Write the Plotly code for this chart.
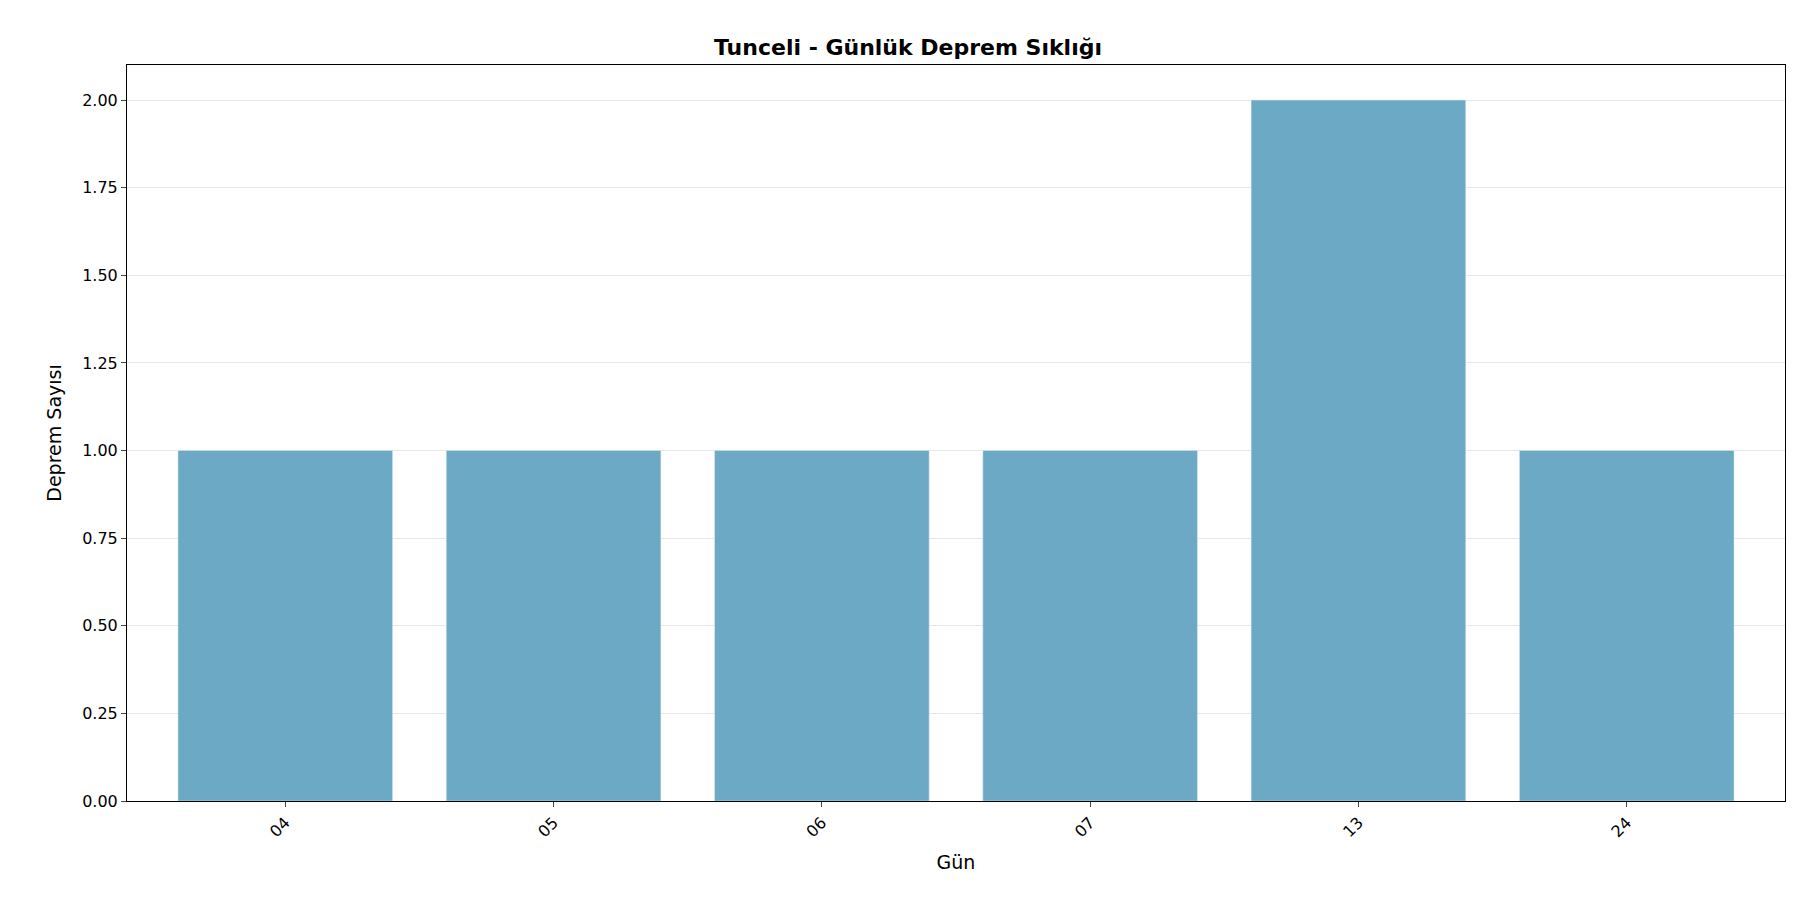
import plotly.graph_objects as go

days = ["04", "05", "06", "07", "13", "24"]
counts = [1, 1, 1, 1, 2, 1]

fig = go.Figure(go.Bar(x=days, y=counts, marker_color="#6ba9c4", width=0.8))
fig.update_layout(
    width=1800, height=900, plot_bgcolor="white", paper_bgcolor="white",
    margin=dict(l=119, r=23, t=57, b=107),
    font=dict(family="DejaVu Sans", color="black", size=16),
    title=dict(text="<b>Tunceli - Günlük Deprem Sıklığı</b>", x=0.5, xanchor="center", y=0.965, font=dict(size=22)),
    showlegend=False,
)
fig.update_xaxes(title_text="Gün", title_font=dict(size=19), tickangle=-45, showline=True, linecolor="black",
                 mirror=True, ticks="outside", range=[-0.59, 5.59])
fig.update_yaxes(title_text="Deprem Sayısı", title_font=dict(size=19), range=[0, 2.1], tickvals=[0, 0.25, 0.5, 0.75, 1, 1.25, 1.5, 1.75, 2],
                 tickformat=".2f", showline=True, linecolor="black", mirror=True, ticks="outside",
                 showgrid=True, gridcolor="#e6e6e6", zeroline=False)
fig.write_html("out.html")
